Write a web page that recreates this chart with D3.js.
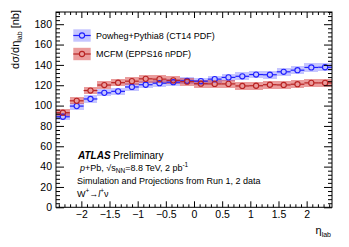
<!DOCTYPE html>
<html><head><meta charset="utf-8">
<script src="https://cdn.jsdelivr.net/npm/d3@7"></script>
<style>
html,body{margin:0;padding:0;background:#fff;}
svg{display:block;font-family:"Liberation Sans",Arial,Helvetica,sans-serif;}
</style></head>
<body><svg id="c" width="349" height="247"></svg>
<script>
// ---- data ----
const etaCenters = [-2.3275,-2.0825,-1.8375,-1.5925,-1.3475,-1.1025,-0.8575,-0.6125,-0.3675,-0.1225,
                    0.1225,0.3675,0.6125,0.8575,1.1025,1.3475,1.5925,1.8375,2.0825,2.3275];
const binHalfWidth = 0.1225;
const powhegValues = [89,99.5,106.5,112.5,114,118.3,120.5,122,123,124.3,124,126,127.7,128.8,130.5,130.3,133.2,134.8,137.5,137.7];
const powhegErr    = [3.5,3.5,3.5,3.5,3.5,3.5,3.5,3.5,3.5,3.5,3.5,3.5,3.8,3.8,3.8,3.8,4,4,4,4];
const mcfmValues   = [93,104.7,114.8,120.2,122.5,124,126.3,126,124.8,123.5,121.5,121.3,121.3,119.3,119.5,120.5,120.3,121,122.3,122.3];
const mcfmErr      = [3.5,3.5,3.5,3.5,3.5,3.8,3.8,3.8,4,4,4,4,4,4,4,4,4,4,4,4];
const xMajorTicks = [-2,-1.5,-1,-0.5,0,0.5,1,1.5,2];
const yMajorTicks = [0,20,40,60,80,100,120,140,160,180];
const seriesNames = ["Powheg+Pythia8 (CT14 PDF)","MCFM (EPPS16 nPDF)"];

// ---- layout ----
const L=56, R=332, T=12, B=207.3;
const svg = d3.select("#c");
const x = d3.scaleLinear().domain([-2.45,2.45]).range([L,R]);
const y = d3.scaleLinear().domain([0,192]).range([B,T]);

const series = [
  {name:seriesNames[0], v:powhegValues, e:powhegErr, line:"#1f1fff", band:"rgba(40,40,255,0.27)"},
  {name:seriesNames[1], v:mcfmValues, e:mcfmErr, line:"#b82222", band:"rgba(205,20,20,0.42)"}
];
const r = 2.6;

// bands
series.forEach(s=>{
  svg.append("g").selectAll("rect").data(etaCenters).join("rect")
    .attr("x",d=>x(d-binHalfWidth)).attr("width",d=>x(d+binHalfWidth)-x(d-binHalfWidth))
    .attr("y",(d,i)=>y(s.v[i]+s.e[i])).attr("height",(d,i)=>y(s.v[i]-s.e[i])-y(s.v[i]+s.e[i]))
    .attr("fill",s.band).attr("shape-rendering","crispEdges");
});
// lines + markers
series.forEach(s=>{
  const g = svg.append("g");
  etaCenters.forEach((d,i)=>{
    const cx=x(d), cy=y(s.v[i]);
    g.append("line").attr("x1",x(d-binHalfWidth)).attr("x2",cx-r).attr("y1",cy).attr("y2",cy).attr("stroke",s.line).attr("stroke-width",1.2);
    g.append("line").attr("x1",cx+r).attr("x2",x(d+binHalfWidth)).attr("y1",cy).attr("y2",cy).attr("stroke",s.line).attr("stroke-width",1.2);
    g.append("circle").attr("cx",cx).attr("cy",cy).attr("r",r).attr("fill","none").attr("stroke",s.line).attr("stroke-width",1.1);
  });
});

// axes
const fmt = d3.format("");
const xMinor = d3.range(-24,25).map(k=>k/10).filter(v=>!xMajorTicks.some(m=>Math.abs(m-v)<1e-9));
const yMinor = d3.range(0,193,4).filter(v=>v%20!==0);
function axisG(axis, tr){
  const g = svg.append("g").attr("transform",tr).call(axis);
  g.select(".domain").remove();
  g.selectAll("text").attr("font-family","Liberation Sans, Arial, sans-serif").attr("fill","#000");
  return g;
}
axisG(d3.axisBottom(x).tickValues(xMajorTicks).tickSize(-6).tickPadding(3).tickFormat(fmt),`translate(0,${B})`)
  .selectAll("text").attr("font-size",10.5);
axisG(d3.axisBottom(x).tickValues(xMinor).tickSize(-3).tickFormat(""),`translate(0,${B})`);
axisG(d3.axisTop(x).tickValues(xMajorTicks).tickSize(-6).tickFormat(""),`translate(0,${T})`);
axisG(d3.axisTop(x).tickValues(xMinor).tickSize(-3).tickFormat(""),`translate(0,${T})`);
axisG(d3.axisLeft(y).tickValues(yMajorTicks).tickSize(-8).tickPadding(4).tickFormat(fmt),`translate(${L},0)`)
  .selectAll("text").attr("font-size",10.5);
axisG(d3.axisLeft(y).tickValues(yMinor).tickSize(-4).tickFormat(""),`translate(${L},0)`);
axisG(d3.axisRight(y).tickValues(yMajorTicks).tickSize(-8).tickFormat(""),`translate(${R},0)`);
axisG(d3.axisRight(y).tickValues(yMinor).tickSize(-4).tickFormat(""),`translate(${R},0)`);
svg.selectAll(".tick line").attr("stroke","#000");
svg.append("rect").attr("x",L).attr("y",T).attr("width",R-L).attr("height",B-T).attr("fill","none").attr("stroke","#000").attr("stroke-width",1);

// axis titles
const yt = svg.append("text").attr("transform","translate(19,10) rotate(-90)").attr("text-anchor","end").attr("font-size",11);
yt.append("tspan").text("dσ/dη");
yt.append("tspan").attr("font-size",7).attr("dy",2.5).text("lab");
yt.append("tspan").attr("dy",-2.5).text(" [nb]");
const xt = svg.append("text").attr("x",331).attr("y",234).attr("text-anchor","end").attr("font-size",11);
xt.append("tspan").text("η");
xt.append("tspan").attr("font-size",7).attr("dy",2.5).text("lab");

// legend
series.forEach((s,i)=>{
  const cy = [35.5,54][i];
  svg.append("rect").attr("x",73.3).attr("y",cy-6.2).attr("width",17.4).attr("height",12.4).attr("fill",s.band);
  svg.append("line").attr("x1",73.3).attr("x2",82-r).attr("y1",cy).attr("y2",cy).attr("stroke",s.line).attr("stroke-width",1.2);
  svg.append("line").attr("x1",82+r).attr("x2",90.7).attr("y1",cy).attr("y2",cy).attr("stroke",s.line).attr("stroke-width",1.2);
  svg.append("circle").attr("cx",82).attr("cy",cy).attr("r",r).attr("fill","none").attr("stroke",s.line).attr("stroke-width",1.1);
  svg.append("text").attr("x",96).attr("y",cy+3.3).attr("font-size",9).text(s.name);
});

// ATLAS label block
const t1 = svg.append("text").attr("x",78).attr("y",158.5).attr("font-size",10);
t1.append("tspan").attr("font-weight","bold").attr("font-style","italic").text("ATLAS");
t1.append("tspan").text(" Preliminary");
const t2 = svg.append("text").attr("x",80).attr("y",170.5).attr("font-size",9);
t2.append("tspan").attr("font-style","italic").text("p");
t2.append("tspan").text("+Pb, √s");
t2.append("tspan").attr("font-size",6.5).attr("dy",2).text("NN");
t2.append("tspan").attr("dy",-2).text("=8.8 TeV, 2 pb");
t2.append("tspan").attr("font-size",6.5).attr("dy",-3.5).text("-1");
svg.append("text").attr("x",77).attr("y",184).attr("font-size",9).text("Simulation and Projections from Run 1, 2 data");
const t4 = svg.append("text").attr("x",77).attr("y",196.5).attr("font-size",9);
t4.append("tspan").text("W");
t4.append("tspan").attr("font-size",6.5).attr("dy",-3.5).text("+");
t4.append("tspan").attr("dy",3.5).text("→");
t4.append("tspan").attr("font-style","italic").text("l");
t4.append("tspan").attr("font-size",6.5).attr("dy",-3.5).text("+");
t4.append("tspan").attr("dy",3.5).text("ν");
</script></body></html>
